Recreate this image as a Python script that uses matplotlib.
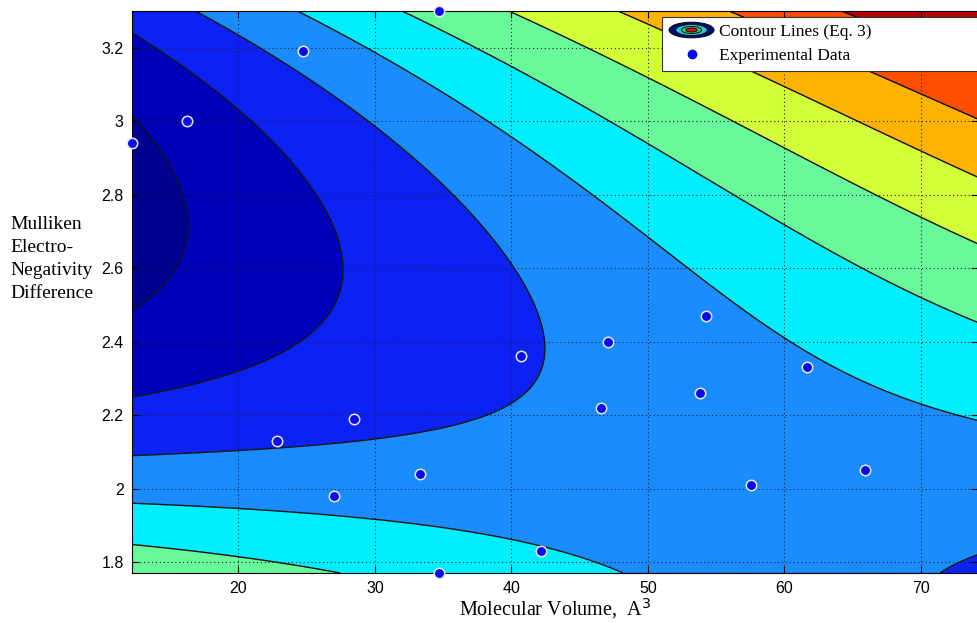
import numpy as np
import matplotlib
matplotlib.use("Agg")
import matplotlib.pyplot as plt
from matplotlib.patches import Ellipse
from matplotlib.legend_handler import HandlerBase
from matplotlib.lines import Line2D

# experimental data points (molecular volume, electronegativity difference)
exp_volume = [12.2, 16.2, 24.7, 34.7, 40.7, 47.1, 54.3, 46.6, 53.8, 61.7,
              22.8, 28.5, 33.3, 27.0, 42.2, 34.7, 57.6, 65.9]
exp_eneg = [2.94, 3.00, 3.19, 3.30, 2.36, 2.40, 2.47, 2.22, 2.26, 2.33,
            2.13, 2.19, 2.04, 1.98, 1.83, 1.77, 2.01, 2.05]

# points read along the contour lines of Eq. 3 (x, y, contour index)
line_x = [12.2, 14.3, 16.0, 14.1, 12.2,
          12.2, 18.7, 20.9, 24.5, 26.7, 27.8, 26.7, 24.5, 18.7, 12.3,
          17.6, 20.9, 30.0, 34.6, 38.0, 40.0, 41.9, 42.3, 40.6, 35.7, 29.9, 20.2, 12.3, 70.0, 74.2,
          25.0, 30.0, 35.5, 40.0, 45.3, 50.2, 53.6, 60.0, 62.1, 69.9, 74.2,
          12.2, 29.9, 39.9, 48.0,
          32.4, 40.0, 45.3, 50.2, 53.8, 60.0, 66.0, 70.0, 74.1, 12.2, 23.1, 27.0,
          39.9, 45.3, 50.2, 60.0, 67.2, 70.0, 74.1,
          47.4, 50.2, 57.0, 60.0, 70.0, 74.1,
          55.1, 65.0, 70.0, 74.1,
          69.4, 73.4]
line_y = [2.98, 2.91, 2.73, 2.55, 2.505,
          3.24, 3.08, 3.00, 2.86, 2.74, 2.61, 2.48, 2.40, 2.30, 2.25,
          3.30, 3.22, 3.00, 2.87, 2.72, 2.61, 2.48, 2.42, 2.29, 2.19, 2.14, 2.11, 2.09, 1.77, 1.83,
          3.29, 3.19, 3.07, 2.97, 2.84, 2.70, 2.60, 2.42, 2.35, 2.20, 2.17,
          1.955, 1.92, 1.88, 1.78,
          3.29, 3.14, 3.05, 2.95, 2.89, 2.74, 2.60, 2.53, 2.46, 1.84, 1.80, 1.77,
          3.29, 3.19, 3.11, 2.93, 2.80, 2.75, 2.67,
          3.30, 3.24, 3.13, 3.08, 2.92, 2.85,
          3.30, 3.13, 3.05, 2.99,
          3.30, 3.13]
line_level = [1] * 5 + [2] * 10 + [3] * 15 + [4] * 11 + [4] * 4 + [5] * 12 + \
             [6] * 7 + [7] * 6 + [8] * 4 + [9] * 2

band_colors = ["#000090", "#0000B8", "#0B22F2", "#1B8CFF", "#00EEFF",
               "#68F99B", "#D2FF38", "#FFB300", "#FF4E00", "#B40000"]

x_ticks = [20, 30, 40, 50, 60, 70]
y_ticks = [1.8, 2.0, 2.2, 2.4, 2.6, 2.8, 3.0, 3.2]
y_tick_labels = ["1.8", "2", "2.2", "2.4", "2.6", "2.8", "3", "3.2"]


def terms(u, v):
    return [np.ones_like(u), u, v, u**2, u * v, v**2, u**3, u**2 * v, u * v**2, v**3]


# cubic surface (Eq. 3) through the read contour points
lx = (np.array(line_x) - 40) / 30
ly = (np.array(line_y) - 2.5) / 0.8
A = np.column_stack(terms(lx, ly))
coef = np.linalg.lstsq(A, np.array(line_level, float), rcond=None)[0]

xg = np.linspace(12.2, 74.2, 400)
yg = np.linspace(1.77, 3.30, 400)
X, Y = np.meshgrid(xg, yg)
Z = sum(c * t for c, t in zip(coef, terms((X - 40) / 30, (Y - 2.5) / 0.8)))

fig = plt.figure(figsize=(9.78, 6.23), dpi=100)
ax = fig.add_axes([132 / 978, 50 / 623, 1 - 132 / 978, 562 / 623])

levels = [-100, 1, 2, 3, 4, 5, 6, 7, 8, 9, 100]
ax.contourf(X, Y, Z, levels=levels, colors=band_colors)
ax.contour(X, Y, Z, levels=levels[1:-1], colors="#111111", linewidths=1.0)

ax.plot(exp_volume, exp_eneg, "o", color="#0A0AF0", markeredgecolor="#E8E8F0",
        markeredgewidth=1.1, markersize=7.5, clip_on=False, zorder=5)

ax.set_xlim(12.2, 74.2)
ax.set_ylim(1.77, 3.30)
ax.set_xticks(x_ticks)
ax.set_yticks(y_ticks)
ax.set_yticklabels(y_tick_labels)
ax.tick_params(direction="in", top=True, right=True, length=5, labelsize=11.5, pad=6)
for lab in ax.get_xticklabels() + ax.get_yticklabels():
    lab.set_fontfamily("Liberation Sans")
ax.grid(True, color="#222222", linestyle=(0, (1, 2.5)), linewidth=0.8)

serif = "Liberation Serif"
ax.set_xlabel("Molecular Volume,  A$^3$", fontsize=14.5, fontfamily=serif, labelpad=0)
fig.text(10 / 978, 1 - 259 / 623, "Mulliken\nElectro-\nNegativity\nDifference",
         fontsize=14, fontfamily=serif, ha="left", va="center", linespacing=1.45)


class ContourHandler(HandlerBase):
    def create_artists(self, legend, orig_handle, xdescent, ydescent, width, height, fontsize, trans):
        cx = width / 2 - xdescent
        cy = height / 2 - ydescent
        out = []
        for scale, col in [(1.0, "#00106A"), (0.7, "#20C8E0"), (0.45, "#40C060"), (0.25, "#E01010")]:
            e = Ellipse((cx, cy), width * scale, height * 1.3 * scale, facecolor=col,
                        edgecolor="#000000", linewidth=0.6, transform=trans)
            out.append(e)
        return out


class ContourKey:
    pass


dot = Line2D([], [], marker="o", linestyle="none", color="#0A0AF0", markersize=6)
leg = ax.legend([ContourKey(), dot], ["Contour Lines (Eq. 3)", "Experimental Data"],
                handler_map={ContourKey: ContourHandler()},
                loc="upper left", bbox_to_anchor=(662 / 978, 0, 1 - 662 / 978 + 0.03, 1 - 17 / 623),
                bbox_transform=fig.transFigure, mode="expand", borderaxespad=0,
                prop={"family": serif, "size": 12.5}, fancybox=False, framealpha=1,
                edgecolor="#333333", handlelength=2.6, handletextpad=0.3,
                labelspacing=0.45, borderpad=0.4)
leg.get_frame().set_linewidth(0.8)

fig.savefig("out.png", dpi=100)
